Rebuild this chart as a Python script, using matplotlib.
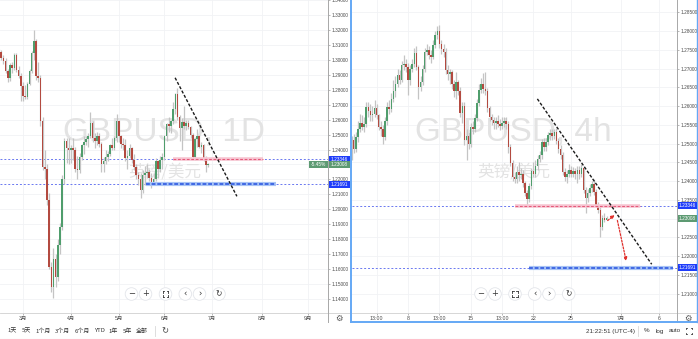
import numpy as np
import matplotlib
matplotlib.use("Agg")
import matplotlib.pyplot as plt
from matplotlib.patches import Rectangle, Circle, FancyArrowPatch
from matplotlib.lines import Line2D
import matplotlib.transforms as mtransforms

plt.rcParams['font.family'] = ['Liberation Sans', 'Noto Sans CJK SC', 'DejaVu Sans']

# ---------------- data ----------------
symbol = "GBPUSD"
name_cn = "英镑/美元"

# Daily candles, one per weekday starting 2020-02-14
d_start = "2020-02-14"
d_open = [1.3040, 1.3050, 1.3010, 1.2995, 1.2925, 1.2880, 1.2965, 1.2945, 1.3035, 1.2930, 1.2895,
          1.2825, 1.2760, 1.2750, 1.2840, 1.2925, 1.3045, 1.3125, 1.2890, 1.2880, 1.2590,
          1.2280, 1.2270, 1.2060, 1.1615, 1.1480, 1.1665, 1.1550, 1.1760, 1.1880, 1.2200,
          1.2460, 1.2410, 1.2400, 1.2410, 1.2400, 1.2270, 1.2260, 1.2350, 1.2430, 1.2450,
          1.2470, 1.2490, 1.2580, 1.2480, 1.2460, 1.2490, 1.2440, 1.2300, 1.2320, 1.2350,
          1.2370, 1.2430, 1.2410, 1.2480, 1.2590, 1.2490, 1.2440, 1.2430, 1.2340, 1.2360,
          1.2410, 1.2330, 1.2280, 1.2230, 1.2200, 1.2130, 1.2230, 1.2240, 1.2250, 1.2210,
          1.2170, 1.2200, 1.2320, 1.2270, 1.2330, 1.2350, 1.2490, 1.2570, 1.2555, 1.2590,
          1.2670, 1.2770, 1.2615, 1.2545, 1.2585, 1.2560, 1.2575, 1.2550, 1.2500, 1.2350,
          1.2470, 1.2490, 1.2420, 1.2430, 1.2335, 1.2295]
d_high = [1.3070, 1.3065, 1.3030, 1.3010, 1.2940, 1.2980, 1.2985, 1.3045, 1.3045, 1.2960, 1.2915,
          1.2850, 1.2830, 1.2850, 1.2940, 1.3060, 1.3200, 1.3140, 1.2985, 1.2900, 1.2620,
          1.2400, 1.2300, 1.2110, 1.1650, 1.1740, 1.1700, 1.1800, 1.1910, 1.2230, 1.2480,
          1.2480, 1.2480, 1.2430, 1.2480, 1.2420, 1.2360, 1.2380, 1.2440, 1.2490, 1.2490,
          1.2510, 1.2650, 1.2590, 1.2510, 1.2520, 1.2510, 1.2450, 1.2350, 1.2400, 1.2390,
          1.2440, 1.2480, 1.2490, 1.2640, 1.2600, 1.2500, 1.2480, 1.2470, 1.2400, 1.2440,
          1.2420, 1.2370, 1.2300, 1.2250, 1.2240, 1.2260, 1.2290, 1.2300, 1.2270, 1.2240,
          1.2240, 1.2340, 1.2330, 1.2360, 1.2380, 1.2500, 1.2580, 1.2620, 1.2600, 1.2720,
          1.2780, 1.2813, 1.2630, 1.2610, 1.2690, 1.2600, 1.2600, 1.2560, 1.2510, 1.2480,
          1.2540, 1.2500, 1.2450, 1.2440, 1.2360, 1.2310]
d_low = [1.3010, 1.3000, 1.2975, 1.2915, 1.2850, 1.2860, 1.2915, 1.2930, 1.2920, 1.2880, 1.2725,
         1.2725, 1.2735, 1.2740, 1.2830, 1.2915, 1.3000, 1.2865, 1.2850, 1.2560, 1.2260,
         1.2200, 1.2030, 1.1600, 1.1450, 1.1410, 1.1480, 1.1520, 1.1700, 1.1860, 1.2170,
         1.2310, 1.2300, 1.2310, 1.2330, 1.2250, 1.2200, 1.2240, 1.2330, 1.2370, 1.2430,
         1.2420, 1.2480, 1.2450, 1.2410, 1.2430, 1.2420, 1.2250, 1.2250, 1.2300, 1.2320,
         1.2360, 1.2400, 1.2400, 1.2450, 1.2450, 1.2410, 1.2400, 1.2320, 1.2270, 1.2340,
         1.2310, 1.2260, 1.2200, 1.2165, 1.2075, 1.2110, 1.2160, 1.2210, 1.2190, 1.2140,
         1.2160, 1.2190, 1.2210, 1.2250, 1.2270, 1.2330, 1.2460, 1.2520, 1.2510, 1.2570,
         1.2640, 1.2600, 1.2460, 1.2400, 1.2540, 1.2530, 1.2540, 1.2480, 1.2340, 1.2330,
         1.2420, 1.2410, 1.2380, 1.2320, 1.2253, 1.2285]
d_close = [1.3050, 1.3010, 1.2995, 1.2925, 1.2880, 1.2965, 1.2945, 1.3035, 1.2930, 1.2895, 1.2825,
           1.2760, 1.2750, 1.2840, 1.2925, 1.3045, 1.3125, 1.2890, 1.2880, 1.2590, 1.2280,
           1.2270, 1.2060, 1.1615, 1.1480, 1.1665, 1.1550, 1.1760, 1.1880, 1.2200, 1.2460,
           1.2410, 1.2400, 1.2410, 1.2400, 1.2270, 1.2260, 1.2350, 1.2430, 1.2450, 1.2470,
           1.2490, 1.2580, 1.2480, 1.2460, 1.2490, 1.2440, 1.2300, 1.2320, 1.2350, 1.2370,
           1.2430, 1.2410, 1.2480, 1.2590, 1.2490, 1.2440, 1.2430, 1.2340, 1.2360, 1.2410,
           1.2330, 1.2280, 1.2230, 1.2200, 1.2130, 1.2230, 1.2240, 1.2250, 1.2210, 1.2170,
           1.2200, 1.2320, 1.2270, 1.2330, 1.2350, 1.2490, 1.2570, 1.2555, 1.2590, 1.2670,
           1.2770, 1.2615, 1.2545, 1.2585, 1.2560, 1.2575, 1.2550, 1.2500, 1.2350, 1.2470,
           1.2490, 1.2420, 1.2430, 1.2335, 1.2295, 1.2300]

# 4h candles (UTC-4), consecutive bars starting with the 13:00 bar of 2020-06-01
h_start = ("2020-06-01", 13)
h_open = [1.2465, 1.2509, 1.2485, 1.2518, 1.2540, 1.2556, 1.2545, 1.2552, 1.2598, 1.2588,
          1.2575, 1.2580, 1.2596, 1.2575, 1.2545, 1.2540, 1.2518, 1.2560, 1.2598, 1.2592,
          1.2620, 1.2640, 1.2660, 1.2683, 1.2670, 1.2709, 1.2712, 1.2705, 1.2669, 1.2700,
          1.2712, 1.2741, 1.2704, 1.2650, 1.2665, 1.2700, 1.2745, 1.2750, 1.2735, 1.2730,
          1.2763, 1.2789, 1.2800, 1.2765, 1.2752, 1.2745, 1.2696, 1.2685, 1.2690, 1.2660,
          1.2640, 1.2665, 1.2640, 1.2581, 1.2600, 1.2510, 1.2520, 1.2500, 1.2545, 1.2540,
          1.2567, 1.2608, 1.2643, 1.2658, 1.2645, 1.2640, 1.2594, 1.2571, 1.2562, 1.2555,
          1.2560, 1.2552, 1.2548, 1.2556, 1.2560, 1.2552, 1.2491, 1.2448, 1.2411, 1.2405,
          1.2425, 1.2415, 1.2420, 1.2395, 1.2368, 1.2352, 1.2388, 1.2428, 1.2420, 1.2440,
          1.2459, 1.2469, 1.2505, 1.2490, 1.2505, 1.2523, 1.2528, 1.2520, 1.2530, 1.2508,
          1.2486, 1.2470, 1.2425, 1.2410, 1.2420, 1.2430, 1.2420, 1.2428, 1.2420, 1.2430,
          1.2420, 1.2435, 1.2376, 1.2355, 1.2368, 1.2381, 1.2392, 1.2370, 1.2337, 1.2323,
          1.2278, 1.2301, 1.2297]
h_high = [1.2520, 1.2525, 1.2530, 1.2560, 1.2580, 1.2575, 1.2570, 1.2610, 1.2612, 1.2605,
          1.2600, 1.2615, 1.2605, 1.2580, 1.2560, 1.2550, 1.2570, 1.2610, 1.2615, 1.2635,
          1.2670, 1.2680, 1.2700, 1.2695, 1.2720, 1.2735, 1.2725, 1.2715, 1.2710, 1.2725,
          1.2755, 1.2760, 1.2710, 1.2680, 1.2710, 1.2755, 1.2765, 1.2760, 1.2750, 1.2775,
          1.2800, 1.2813, 1.2816, 1.2775, 1.2765, 1.2755, 1.2710, 1.2700, 1.2695, 1.2670,
          1.2690, 1.2670, 1.2650, 1.2610, 1.2610, 1.2540, 1.2530, 1.2555, 1.2560, 1.2580,
          1.2620, 1.2660, 1.2675, 1.2687, 1.2690, 1.2648, 1.2600, 1.2580, 1.2570, 1.2570,
          1.2575, 1.2565, 1.2570, 1.2572, 1.2570, 1.2560, 1.2500, 1.2455, 1.2425, 1.2440,
          1.2450, 1.2435, 1.2430, 1.2400, 1.2375, 1.2395, 1.2435, 1.2450, 1.2455, 1.2470,
          1.2480, 1.2512, 1.2515, 1.2515, 1.2530, 1.2540, 1.2540, 1.2540, 1.2542, 1.2515,
          1.2495, 1.2478, 1.2435, 1.2430, 1.2445, 1.2440, 1.2438, 1.2435, 1.2440, 1.2440,
          1.2445, 1.2440, 1.2385, 1.2378, 1.2392, 1.2400, 1.2405, 1.2378, 1.2345, 1.2330,
          1.2310, 1.2315, 1.2306]
h_low = [1.2455, 1.2475, 1.2478, 1.2505, 1.2530, 1.2535, 1.2530, 1.2545, 1.2570, 1.2560,
         1.2560, 1.2570, 1.2565, 1.2535, 1.2520, 1.2500, 1.2510, 1.2550, 1.2580, 1.2585,
         1.2610, 1.2625, 1.2650, 1.2660, 1.2665, 1.2695, 1.2690, 1.2629, 1.2655, 1.2690,
         1.2705, 1.2695, 1.2620, 1.2640, 1.2655, 1.2690, 1.2735, 1.2725, 1.2715, 1.2725,
         1.2755, 1.2780, 1.2755, 1.2740, 1.2730, 1.2685, 1.2670, 1.2660, 1.2645, 1.2625,
         1.2620, 1.2630, 1.2570, 1.2555, 1.2495, 1.2456, 1.2485, 1.2490, 1.2525, 1.2530,
         1.2560, 1.2600, 1.2635, 1.2635, 1.2630, 1.2585, 1.2560, 1.2550, 1.2540, 1.2540,
         1.2545, 1.2535, 1.2540, 1.2545, 1.2540, 1.2475, 1.2440, 1.2400, 1.2395, 1.2395,
         1.2400, 1.2405, 1.2385, 1.2360, 1.2336, 1.2345, 1.2380, 1.2410, 1.2410, 1.2430,
         1.2450, 1.2460, 1.2480, 1.2480, 1.2495, 1.2510, 1.2510, 1.2512, 1.2500, 1.2475,
         1.2460, 1.2415, 1.2400, 1.2395, 1.2410, 1.2410, 1.2412, 1.2405, 1.2395, 1.2405,
         1.2412, 1.2368, 1.2314, 1.2345, 1.2360, 1.2370, 1.2362, 1.2330, 1.2315, 1.2251,
         1.2270, 1.2292, 1.2295]
h_close = [1.2509, 1.2485, 1.2518, 1.2540, 1.2556, 1.2545, 1.2552, 1.2598, 1.2588, 1.2575,
           1.2580, 1.2596, 1.2575, 1.2545, 1.2540, 1.2518, 1.2560, 1.2598, 1.2592, 1.2620,
           1.2640, 1.2660, 1.2683, 1.2670, 1.2709, 1.2712, 1.2705, 1.2669, 1.2700, 1.2712,
           1.2741, 1.2704, 1.2650, 1.2665, 1.2700, 1.2745, 1.2750, 1.2735, 1.2730, 1.2763,
           1.2789, 1.2800, 1.2765, 1.2752, 1.2745, 1.2696, 1.2685, 1.2690, 1.2660, 1.2640,
           1.2665, 1.2640, 1.2581, 1.2600, 1.2510, 1.2520, 1.2500, 1.2545, 1.2540, 1.2567,
           1.2608, 1.2643, 1.2658, 1.2645, 1.2640, 1.2594, 1.2571, 1.2562, 1.2555, 1.2560,
           1.2552, 1.2548, 1.2556, 1.2560, 1.2552, 1.2491, 1.2448, 1.2411, 1.2405, 1.2425,
           1.2415, 1.2420, 1.2395, 1.2368, 1.2352, 1.2388, 1.2428, 1.2420, 1.2440, 1.2459,
           1.2469, 1.2505, 1.2490, 1.2505, 1.2523, 1.2528, 1.2520, 1.2530, 1.2508, 1.2486,
           1.2470, 1.2425, 1.2410, 1.2420, 1.2430, 1.2420, 1.2428, 1.2420, 1.2430, 1.2420,
           1.2435, 1.2376, 1.2355, 1.2368, 1.2381, 1.2392, 1.2370, 1.2337, 1.2323, 1.2278,
           1.2301, 1.2297, 1.2301]

level_hi = 1.23346
level_lo = 1.21691
last_price = 1.23008
last_change = "-5.45%"

d_tick_dates = ["2020-03-02", "2020-04-01", "2020-05-01", "2020-06-01", "2020-07-01", "2020-08-03", "2020-09-01"]
d_tick_labels = ["3月", "4月", "5月", "6月", "7月", "8月", "9月"]
d_price_ticks = [1.14, 1.15, 1.16, 1.17, 1.18, 1.19, 1.20, 1.21, 1.22, 1.23, 1.24, 1.25,
                 1.26, 1.27, 1.28, 1.29, 1.30, 1.31, 1.32, 1.33, 1.34]
h_tick_times = [("2020-06-03", 13), ("2020-06-08", 1), ("2020-06-10", 13), ("2020-06-15", 1),
                ("2020-06-17", 13), ("2020-06-22", 1), ("2020-06-25", 1), ("2020-07-01", 1), ("2020-07-06", 1)]
h_tick_labels = ["13:00", "8", "13:00", "15", "13:00", "22", "25", "7月", "6"]
h_price_ticks = [1.210, 1.215, 1.220, 1.225, 1.230, 1.235, 1.240, 1.245, 1.250, 1.255,
                 1.260, 1.265, 1.270, 1.275, 1.280, 1.285]
# tick values whose labels are hidden behind price tags
d_hidden = [1.23]
h_hidden = [1.230]

# user drawings: (bar position, price)
d_trend = [(69.9, 1.2880), (98.3, 1.2087)]
d_pink = [(68.9, 1.23346), (110.3, 1.23346)]
d_blue = [(56.5, 1.21691), (116.3, 1.21691)]
h_trend = [(93.9, 1.2619), (148.6, 1.2178)]
h_pink = [(83.2, 1.23346), (143.0, 1.23346)]
h_blue = [(89.9, 1.21691), (158.7, 1.21691)]
h_arrows = [((126.5, 1.2290), (131.9, 1.2314)), ((131.9, 1.2302), (136.7, 1.2179))]

# ---------------- positions ----------------
D_REF = "2020-03-02"
def dpos(date):
    return int(np.busday_count(D_REF, date))

H_REF = "2020-06-01"
HOUR_SLOT = {17: 0, 21: 1, 1: 2, 5: 3, 9: 4, 13: 5}
def hpos(date, hour):
    return 6 * int(np.busday_count(H_REF, date)) + HOUR_SLOT[hour]

d_x = dpos(d_start) + np.arange(len(d_open))
h_x = hpos(*h_start) + np.arange(len(h_open))

# ---------------- figure ----------------
W, H = 698, 339
fig = plt.figure(figsize=(W / 100, H / 100), dpi=100, facecolor='white')
ID = mtransforms.IdentityTransform()

def rect(x0, y0, x1, y1):
    return [x0 / W, 1 - y1 / H, (x1 - x0) / W, (y1 - y0) / H]

GREEN = '#4f9d6c'
RED = '#b34a40'
WICK = '#c4c4c4'
GRID = '#f1f2f5'
TXT = '#4a4a4a'

ax1 = fig.add_axes(rect(0, 0, 328, 313))
ax2 = fig.add_axes(rect(352, 0, 677, 313))

ax1.set_xlim(-23 / 2.176, 305 / 2.176)
ax1.set_ylim(1.13067, 1.33933)
ax2.set_xlim(32 - 56 / 2.09, 32 + 269 / 2.09)
ax2.set_ylim(1.2048, 1.28827)


def candles(ax, x, o, h, l, c, width):
    o, h, l, c = map(np.asarray, (o, h, l, c))
    up = c >= o
    ax.vlines(x, l, h, color=WICK, lw=0.9, zorder=3)
    body = np.maximum(np.abs(c - o), (ax.get_ylim()[1] - ax.get_ylim()[0]) * 0.003)
    bottom = np.minimum(o, c)
    ax.bar(x[up], body[up], bottom=bottom[up], width=width, color=GREEN, lw=0, zorder=4)
    ax.bar(x[~up], body[~up], bottom=bottom[~up], width=width, color=RED, lw=0, zorder=4)


for ax, pticks, hidden in ((ax1, d_price_ticks, d_hidden), (ax2, h_price_ticks, h_hidden)):
    ax.set_facecolor('white')
    for s in ax.spines.values():
        s.set_visible(False)
    ax.yaxis.tick_right()
    ax.set_yticks(pticks)
    ax.set_yticklabels(["" if any(abs(p - q) < 1e-9 for q in hidden) else f"{p:.5f}" for p in pticks])
    ax.tick_params(axis='y', length=1.5, width=0.5, pad=1.2, labelsize=3.4, colors=TXT,
                   color='#9a9a9a')
    ax.tick_params(axis='x', length=1.5, width=0.5, pad=1.0, labelsize=3.8, colors=TXT,
                   color='#9a9a9a')
    ax.grid(True, color=GRID, lw=0.6, zorder=0)
    ax.set_axisbelow(True)

ax1.set_xticks([dpos(d) for d in d_tick_dates])
ax1.set_xticklabels(d_tick_labels)
ax2.set_xticks([hpos(d, hr) for d, hr in h_tick_times])
ax2.set_xticklabels(h_tick_labels)

candles(ax1, d_x, d_open, d_high, d_low, d_close, 0.72)
candles(ax2, h_x, h_open, h_high, h_low, h_close, 0.72)

# watermarks
wm = '#e3e3e3'
for ax, cx, label in ((ax1, 164, symbol + ", 1D"), (ax2, 513, symbol + ", 4h")):
    ax.text(cx, H - 132, label, transform=ID, ha='center', va='center', fontsize=24,
            color=wm, zorder=1)
    ax.text(cx + 1, H - 172, name_cn, transform=ID, ha='center', va='center', fontsize=12,
            color=wm, zorder=1, family=['Noto Sans CJK SC', 'DejaVu Sans'])

# horizontal levels, drawings
for ax, pink, blue, trend in ((ax1, d_pink, d_blue, d_trend), (ax2, h_pink, h_blue, h_trend)):
    for lv in (level_hi, level_lo):
        ax.axhline(lv, color='#6a78f0', lw=0.7, ls=(0, (2.0, 2.0)), zorder=2)
    (px0, py0), (px1, py1) = pink
    ax.plot([px0, px1], [py0, py1], color='#f7c6d3', lw=2.6, solid_capstyle='butt', zorder=5)
    ax.plot([px0, px1], [py0, py1], color='#e55a7a', lw=0.8, ls=(0, (2.5, 1.5)), zorder=6)
    (bx0, by0), (bx1, by1) = blue
    ax.plot([bx0, bx1], [by0, by1], color='#a9c4f5', lw=3.0, solid_capstyle='butt', zorder=5)
    ax.plot([bx0, bx1], [by0, by1], color='#2450e0', lw=1.1, ls=(0, (2.5, 1.2)), zorder=6)
    (tx0, ty0), (tx1, ty1) = trend
    ax.plot([tx0, tx1], [ty0, ty1], color='#1a1a1a', lw=1.0, ls=(0, (2.2, 1.3)), zorder=7)

for (a0, a1) in h_arrows:
    ax2.add_patch(FancyArrowPatch(a0, a1, arrowstyle='-|>', mutation_scale=5,
                                  color='#e0302c', lw=0.9, ls=(0, (1.5, 1.2)), zorder=8))

# ---------- figure-level helpers ----------
def frect(x0, y0, x1, y1, **kw):
    fig.add_artist(Rectangle((x0, H - y1), x1 - x0, y1 - y0, transform=ID, **kw))

def fline(xs, ys, **kw):
    fig.add_artist(Line2D(xs, [H - y for y in ys], transform=ID, **kw))

def ftext(x, y, s, **kw):
    fig.text(x, H - y, s, transform=ID, **kw)

def ypix(ax, price):
    return H - ax.transData.transform((0, price))[1]

def tag(ax, price, text, color, x0, x1, h=7):
    y = ypix(ax, price)
    frect(x0, y - h / 2, x1, y + h / 2, fc=color, ec='none', zorder=10)
    ftext((x0 + x1) / 2, y, text, ha='center', va='center', color='white', fontsize=3.4, zorder=11)

# axis separators
fline([0, 350], [313, 313], color='#d0d0d0', lw=0.6)
fline([328, 328], [0, 322], color='#a8a8a8', lw=0.7)
fline([352, 698], [313, 313], color='#d0d0d0', lw=0.6)
fline([677, 677], [0, 322], color='#a8a8a8', lw=0.7)
fline([0, 698], [338.5, 338.5], color='#e0e0e0', lw=0.8)
# selected-chart frame (right)
fline([351, 351], [0, 322], color='#64a8f5', lw=1.4)
fline([351, 698], [322, 322], color='#64a8f5', lw=1.4)
fline([697.3, 697.3], [0, 322], color='#64a8f5', lw=1.0)

# price tags
BLUE = '#1f3dfa'
TAGGREEN = '#5d9a72'
tag(ax1, level_hi, f"{level_hi:.5f}", BLUE, 328.5, 350)
tag(ax1, last_price, f"{last_price:.5f}", TAGGREEN, 328.5, 350)
tag(ax1, last_price, last_change, TAGGREEN, 309, 327.5)
tag(ax1, level_lo, f"{level_lo:.5f}", BLUE, 328.5, 350)
tag(ax2, level_hi, f"{level_hi:.5f}", BLUE, 677.5, 697)
tag(ax2, last_price, f"{last_price:.5f}", TAGGREEN, 677.5, 697)
tag(ax2, level_lo, f"{level_lo:.5f}", BLUE, 677.5, 697)

# navigation buttons
def corners(cx, cy, s=2.6, a=1.3, color='#333', lw=0.6):
    for sx in (-1, 1):
        for sy in (-1, 1):
            x = cx + sx * s
            y = cy + sy * s
            fline([x, x], [y, y - sy * a], color=color, lw=lw, zorder=12)
            fline([x, x - sx * a], [y, y], color=color, lw=lw, zorder=12)

def nav(xs, y=294):
    syms = ['−', '+', None, '‹', '›', '↻']
    for x, s in zip(xs, syms):
        fig.add_artist(Circle((x, H - y), 6.3, transform=ID, fc='white', ec='#e3e5ea',
                              lw=0.6, zorder=11))
        if s is None:
            corners(x, y)
        else:
            ftext(x, y, s, ha='center', va='center', fontsize=6 if s != '↻' else 5.5,
                  color='#333', zorder=12, family=['DejaVu Sans'])

nav([131.5, 145.5, 165.5, 185.3, 199.5, 219])
nav([481, 495, 515, 534.7, 549, 568.7])

# gear icons
for gx in (339, 688):
    ftext(gx, 318.5, '⚙', ha='center', va='center', fontsize=6, color='#555',
          family=['DejaVu Sans'])

# bottom toolbar (left)
ranges = [("1天", 12), ("5天", 26), ("1个月", 43), ("3个月", 62), ("6个月", 82),
          ("YTD", 99), ("1年", 113), ("5年", 127), ("全部", 142)]
for s, x in ranges:
    ftext(x, 331, s, ha='center', va='center', fontsize=4.3, color='#333',
          family=['Noto Sans CJK SC', 'DejaVu Sans'])
fline([155, 155], [326, 336], color='#d8d8d8', lw=0.6)
ftext(165, 331, '↻', ha='center', va='center', fontsize=6, color='#444', family=['DejaVu Sans'])

# bottom toolbar (right)
ftext(610, 331, "21:22:51 (UTC-4)", ha='center', va='center', fontsize=4.5, color='#333')
fline([638, 638], [326, 336], color='#d8d8d8', lw=0.6)
ftext(647, 331, "%", ha='center', va='center', fontsize=4.5, color='#333')
ftext(660, 331, "log", ha='center', va='center', fontsize=4.5, color='#333')
ftext(675, 331, "auto", ha='center', va='center', fontsize=4.5, color='#333')
corners(689, 331, s=3.2, a=1.6, color='#444')

fig.savefig("out.png", dpi=100, facecolor='white')
